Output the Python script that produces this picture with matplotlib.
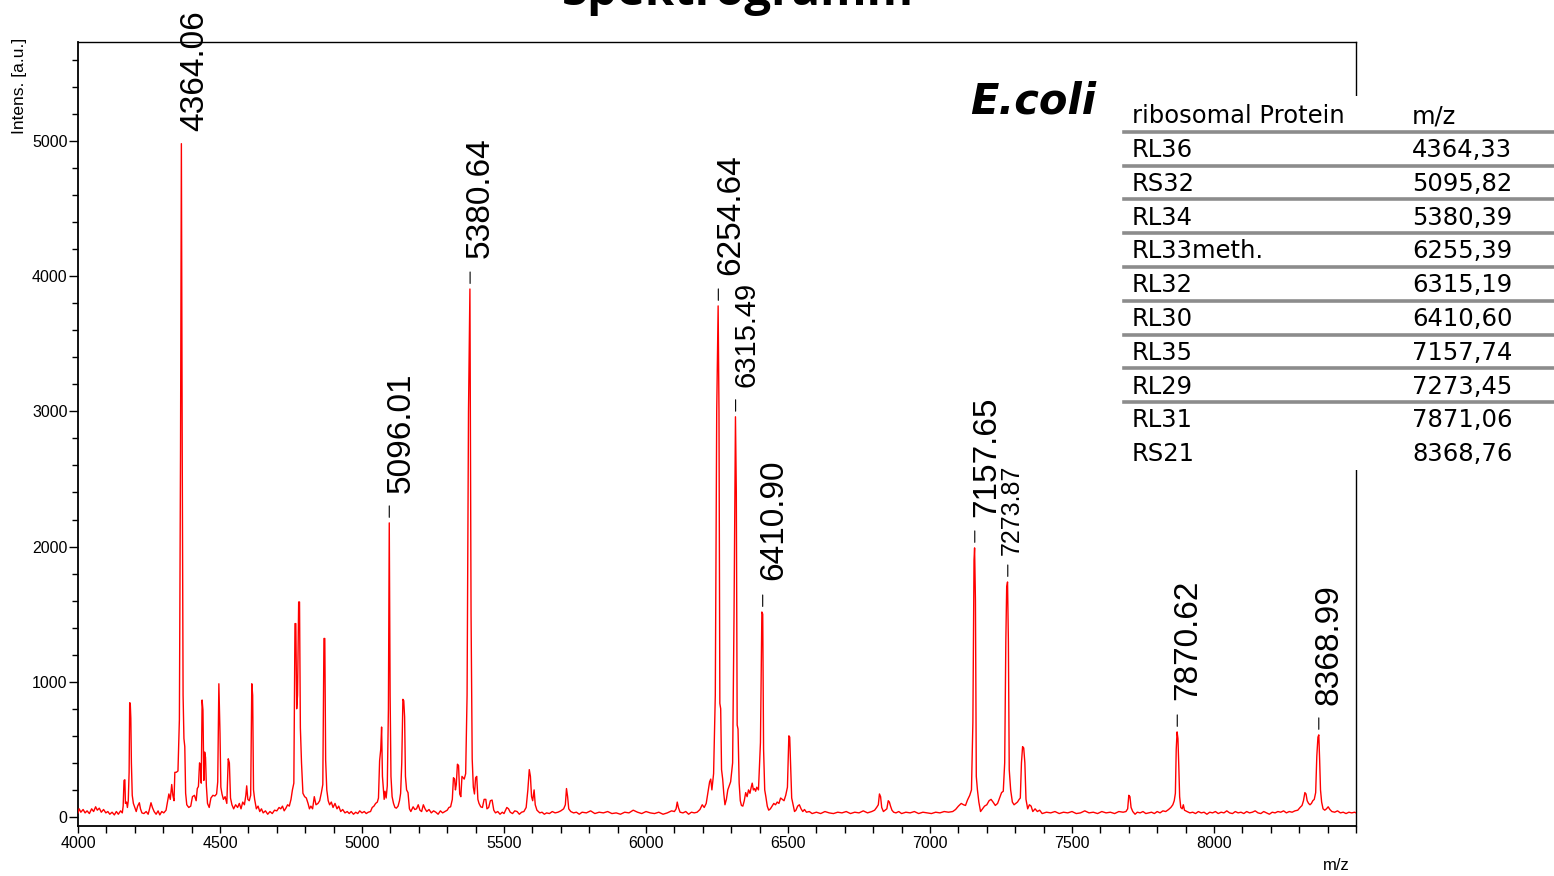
import numpy as np
import matplotlib
matplotlib.use('Agg')
import matplotlib.pyplot as plt
from matplotlib.patches import Rectangle

plt.rcParams['font.family'] = ['Liberation Sans', 'DejaVu Sans']

# spectrum, (m/z, intensity) per 500 m/z segment
seg_4000 = [(4000, 30), (4004, 60), (4010, 35), (4018, 55), (4025, 30), (4032, 45), (4040, 25), (4048, 60),
            (4055, 40), (4062, 75), (4068, 50), (4075, 65), (4082, 35), (4090, 55), (4098, 30), (4105, 40),
            (4112, 20), (4120, 35), (4128, 15), (4135, 40), (4142, 20), (4150, 45), (4156, 30), (4159, 80),
            (4162, 270), (4165, 275), (4167, 100), (4171, 110), (4174, 70), (4177, 120), (4180, 330),
            (4182, 845), (4184, 840), (4186, 730), (4188, 400), (4191, 160), (4195, 100), (4200, 70),
            (4205, 40), (4210, 80), (4216, 105), (4220, 60), (4225, 30), (4232, 25), (4240, 40), (4247, 20),
            (4252, 60), (4257, 105), (4262, 70), (4268, 40), (4275, 20), (4282, 45), (4288, 15), (4295, 40),
            (4302, 30), (4310, 50), (4315, 110), (4320, 170), (4325, 130), (4330, 240), (4334, 160),
            (4338, 120), (4341, 330), (4346, 330), (4352, 340), (4357, 720), (4361, 2700), (4364, 4980),
            (4367, 2700), (4370, 900), (4373, 580), (4376, 520), (4379, 175), (4383, 90), (4390, 70),
            (4397, 80), (4403, 150), (4410, 160), (4416, 120), (4420, 210), (4424, 225), (4428, 400),
            (4431, 380), (4434, 250), (4437, 865), (4440, 790), (4443, 270), (4446, 480), (4449, 440),
            (4452, 230), (4456, 100), (4462, 70), (4468, 140), (4475, 160), (4482, 155), (4488, 170),
            (4492, 260), (4496, 985), (4500, 620)]
seg_4500 = [(4503, 220), (4507, 170), (4512, 130), (4518, 150), (4524, 100), (4529, 430), (4533, 400),
            (4537, 140), (4542, 90), (4548, 60), (4555, 90), (4562, 70), (4568, 100), (4574, 60), (4580, 110),
            (4586, 90), (4591, 160), (4594, 230), (4598, 130), (4603, 120), (4608, 160), (4612, 985),
            (4615, 900), (4618, 200), (4622, 130), (4628, 60), (4634, 80), (4640, 40), (4646, 60), (4652, 30),
            (4660, 45), (4668, 20), (4676, 40), (4684, 25), (4692, 50), (4700, 45), (4708, 70), (4714, 60),
            (4720, 80), (4726, 45), (4732, 65), (4738, 90), (4744, 80), (4750, 130), (4755, 200), (4760, 250),
            (4764, 1430), (4767, 1430), (4770, 800), (4773, 900), (4777, 1590), (4780, 1590), (4783, 660),
            (4787, 400), (4792, 175), (4798, 150), (4804, 140), (4810, 100), (4815, 60), (4820, 80),
            (4826, 60), (4832, 150), (4838, 90), (4845, 100), (4851, 120), (4857, 180), (4862, 240),
            (4866, 1320), (4869, 1320), (4872, 420), (4876, 200), (4881, 120), (4886, 90), (4892, 110),
            (4898, 70), (4905, 100), (4912, 60), (4918, 80), (4925, 40), (4932, 55), (4940, 30), (4948, 40),
            (4955, 25), (4962, 40), (4970, 20), (4978, 35), (4985, 25), (4992, 45), (5000, 30)]
seg_5000 = [(5008, 40), (5015, 25), (5022, 35), (5030, 40), (5036, 70), (5042, 80), (5048, 100), (5054, 110),
            (5058, 140), (5062, 415), (5066, 500), (5069, 665), (5072, 300), (5075, 210), (5078, 130),
            (5081, 190), (5085, 140), (5089, 230), (5093, 800), (5096, 2175), (5099, 900), (5102, 300),
            (5106, 150), (5111, 100), (5116, 70), (5121, 65), (5127, 80), (5132, 120), (5136, 175),
            (5140, 400), (5144, 870), (5147, 860), (5150, 740), (5153, 300), (5157, 200), (5162, 180),
            (5167, 60), (5172, 40), (5180, 75), (5186, 55), (5192, 60), (5198, 90), (5204, 50), (5210, 40),
            (5216, 90), (5222, 60), (5228, 40), (5236, 55), (5244, 30), (5252, 45), (5260, 35), (5268, 20),
            (5276, 45), (5284, 30), (5292, 40), (5300, 50), (5306, 70), (5312, 75), (5318, 130), (5322, 290),
            (5326, 280), (5329, 200), (5332, 240), (5336, 390), (5340, 380), (5344, 170), (5348, 150),
            (5352, 300), (5356, 290), (5360, 280), (5365, 320), (5370, 900), (5375, 3000), (5380, 3905),
            (5384, 1500), (5388, 430), (5392, 220), (5396, 170), (5400, 290), (5404, 300), (5408, 130),
            (5412, 100), (5418, 75), (5424, 70), (5430, 130), (5436, 130), (5440, 60), (5446, 70), (5452, 120),
            (5458, 125), (5464, 50), (5470, 30), (5478, 40), (5486, 20), (5494, 35), (5500, 25)]
seg_5500 = [(5510, 70), (5516, 60), (5522, 35), (5530, 25), (5538, 45), (5546, 40), (5554, 20), (5562, 35),
            (5570, 40), (5578, 70), (5584, 200), (5589, 350), (5593, 300), (5597, 150), (5601, 120),
            (5606, 200), (5610, 90), (5616, 50), (5626, 30), (5634, 35), (5642, 20), (5650, 30), (5660, 25),
            (5670, 40), (5680, 30), (5690, 35), (5700, 45), (5710, 60), (5716, 90), (5720, 210), (5724, 150),
            (5728, 60), (5735, 40), (5745, 30), (5755, 35), (5765, 20), (5775, 35), (5790, 30), (5805, 45),
            (5820, 25), (5835, 35), (5850, 30), (5865, 40), (5880, 25), (5895, 30), (5910, 20), (5925, 35),
            (5940, 30), (5955, 50), (5970, 35), (5985, 25), (6000, 40)]
seg_6000 = [(6015, 30), (6030, 25), (6045, 35), (6060, 20), (6075, 30), (6090, 45), (6100, 40), (6106, 60),
            (6110, 110), (6114, 70), (6120, 35), (6130, 30), (6140, 40), (6150, 20), (6160, 35), (6170, 30),
            (6180, 35), (6190, 55), (6198, 90), (6205, 70), (6212, 100), (6218, 180), (6224, 260), (6228, 280),
            (6232, 200), (6238, 320), (6244, 900), (6249, 3000), (6254, 3780), (6257, 3000), (6260, 840),
            (6263, 800), (6266, 350), (6270, 280), (6274, 170), (6278, 90), (6283, 130), (6288, 200),
            (6293, 230), (6298, 260), (6305, 400), (6310, 1500), (6315, 2960), (6318, 2400), (6321, 680),
            (6324, 650), (6328, 250), (6332, 120), (6336, 85), (6341, 80), (6346, 120), (6351, 180),
            (6356, 150), (6361, 200), (6366, 175), (6370, 215), (6374, 250), (6378, 200), (6382, 210),
            (6386, 190), (6390, 220), (6396, 200), (6403, 550), (6408, 1516), (6411, 1500), (6414, 500),
            (6418, 200), (6422, 150), (6427, 80), (6432, 50), (6438, 60), (6444, 80), (6450, 100), (6456, 90),
            (6462, 110), (6468, 100), (6474, 140), (6480, 130), (6486, 120), (6492, 160), (6498, 220)]
seg_6500 = [(6503, 600), (6506, 590), (6509, 400), (6513, 140), (6518, 90), (6523, 40), (6528, 50), (6534, 80),
            (6540, 90), (6546, 60), (6552, 40), (6558, 55), (6565, 35), (6575, 40), (6585, 25), (6600, 35),
            (6615, 25), (6630, 40), (6645, 30), (6660, 25), (6675, 35), (6690, 30), (6705, 40), (6720, 25),
            (6735, 35), (6750, 30), (6765, 45), (6780, 30), (6795, 40), (6805, 50), (6812, 70), (6818, 90),
            (6822, 170), (6826, 150), (6830, 70), (6836, 40), (6842, 50), (6848, 60), (6853, 120), (6857, 110),
            (6861, 80), (6866, 50), (6872, 35), (6880, 30), (6890, 40), (6900, 25), (6915, 35), (6930, 30),
            (6945, 40), (6960, 25), (6975, 35), (6990, 30)]
seg_7000 = [(7005, 25), (7020, 35), (7035, 30), (7050, 40), (7065, 35), (7080, 40), (7090, 55), (7100, 80),
            (7110, 100), (7118, 90), (7125, 85), (7132, 125), (7140, 160), (7146, 200), (7151, 700),
            (7155, 1900), (7157, 1990), (7160, 1600), (7163, 300), (7167, 200), (7172, 110), (7178, 40),
            (7185, 60), (7192, 80), (7200, 90), (7208, 120), (7215, 130), (7222, 110), (7230, 85), (7238, 100),
            (7245, 140), (7252, 180), (7258, 190), (7263, 400), (7267, 1300), (7270, 1700), (7273, 1738),
            (7276, 1300), (7279, 350), (7284, 200), (7290, 110), (7296, 90), (7302, 100), (7308, 110),
            (7314, 130), (7318, 140), (7322, 400), (7326, 520), (7330, 510), (7334, 400), (7338, 130),
            (7344, 60), (7350, 90), (7356, 80), (7362, 40), (7370, 60), (7378, 40), (7386, 50), (7395, 25),
            (7410, 35), (7425, 30), (7440, 40), (7455, 25), (7470, 35), (7485, 30), (7500, 40)]
seg_7500 = [(7515, 25), (7530, 30), (7545, 45), (7560, 30), (7575, 35), (7590, 25), (7605, 40), (7620, 30),
            (7635, 35), (7650, 25), (7665, 40), (7680, 35), (7690, 40), (7696, 60), (7700, 160), (7704, 150),
            (7708, 70), (7714, 40), (7722, 20), (7730, 35), (7740, 30), (7750, 40), (7760, 25), (7770, 30),
            (7780, 35), (7790, 25), (7800, 40), (7810, 30), (7820, 45), (7830, 40), (7840, 55), (7848, 70),
            (7855, 90), (7860, 120), (7864, 175), (7867, 500), (7870, 629), (7873, 580), (7876, 380),
            (7879, 150), (7883, 70), (7888, 60), (7892, 90), (7896, 50), (7905, 40), (7915, 30), (7925, 35),
            (7935, 25), (7945, 40), (7955, 30), (7965, 35), (7975, 20), (7985, 35), (7995, 30)]
seg_8000 = [(8005, 40), (8015, 25), (8025, 35), (8035, 30), (8045, 45), (8055, 30), (8065, 25), (8075, 40),
            (8085, 30), (8095, 35), (8105, 25), (8115, 40), (8125, 30), (8135, 35), (8145, 45), (8155, 30),
            (8165, 25), (8175, 40), (8185, 30), (8195, 20), (8205, 35), (8215, 30), (8225, 40), (8235, 35),
            (8245, 45), (8255, 30), (8265, 40), (8275, 35), (8285, 45), (8295, 50), (8303, 70), (8310, 85),
            (8315, 120), (8320, 180), (8324, 170), (8328, 120), (8333, 100), (8338, 90), (8343, 100),
            (8348, 120), (8353, 130), (8358, 180), (8362, 450), (8366, 590), (8369, 607), (8372, 420),
            (8375, 200), (8379, 110), (8384, 60), (8390, 50), (8396, 60), (8402, 75), (8408, 55), (8415, 40),
            (8425, 35), (8435, 45), (8445, 30), (8455, 35), (8465, 25), (8475, 35), (8485, 30), (8495, 35),
            (8500, 30)]

# labelled peaks
peak_labels = ['4364.06', '5096.01', '5380.64', '6254.64', '6315.49', '6410.90', '7157.65', '7273.87',
               '7870.62', '8368.99']
peak_mz = [4364.06, 5096.01, 5380.64, 6254.64, 6315.49, 6410.90, 7157.65, 7273.87, 7870.62, 8368.99]
peak_int = [4980, 2175, 3905, 3780, 2960, 1516, 1990, 1738, 629, 607]
label_size = [24, 24, 24, 24, 21, 24, 24, 18, 24, 24]
label_dx = [-2, -4, -5, -3, -3, -4, -4, -8, -5, -5]   # px
label_dy = [13, 30, 31, 31, 30, 32, 31, 27, 32, 30]   # px above peak top
show_dash = [False, True, True, True, True, True, True, True, True, True]

# table
proteins = ['RL36', 'RS32', 'RL34', 'RL33meth.', 'RL32', 'RL30', 'RL35', 'RL29', 'RL31', 'RS21']
protein_mz = ['4364,33', '5095,82', '5380,39', '6255,39', '6315,19', '6410,60', '7157,74', '7273,45',
              '7871,06', '8368,76']

W, H = 1554, 876
fig = plt.figure(figsize=(W / 100, H / 100), dpi=100)
ax = fig.add_axes([78 / W, 1 - 826 / H, (1356 - 78) / W, (826 - 42) / H])


def fx(px):
    return px / W


def fy(py):
    return 1 - py / H


spec = np.array(seg_4000 + seg_4500 + seg_5000 + seg_5500 + seg_6000 + seg_6500 + seg_7000 + seg_7500 + seg_8000)
ax.plot(spec[:, 0], spec[:, 1], color='#ff0000', lw=1.0, zorder=3)

ax.set_xlim(4000, 8500)
ax.set_ylim(-67, 5732)
ax.set_xticks(np.arange(4000, 8001, 500))
ax.set_xticks(np.arange(4000, 8501, 100), minor=True)
ax.set_yticks(np.arange(0, 5001, 1000))
ax.set_yticks(np.arange(0, 5701, 200), minor=True)
ax.tick_params(axis='x', which='both', direction='out', length=5, width=1, labelsize=11.5, pad=2)
ax.tick_params(axis='y', which='major', direction='out', length=6.5, width=1, labelsize=11.5, pad=1)
ax.tick_params(axis='y', which='minor', direction='out', length=4, width=1)
for s in ['left', 'bottom']:
    ax.spines[s].set_linewidth(1.3)
for s in ['top', 'right']:
    ax.spines[s].set_linewidth(1.0)

for i in range(len(peak_mz)):
    ax.annotate(peak_labels[i], xy=(peak_mz[i], peak_int[i]), xytext=(label_dx[i], label_dy[i]),
                textcoords='offset pixels', rotation=90, ha='left', va='bottom',
                fontsize=label_size[i], annotation_clip=False)
    if show_dash[i]:
        ax.annotate('', xy=(peak_mz[i], peak_int[i]), xytext=(0, 17), textcoords='offset pixels',
                    arrowprops=dict(arrowstyle='-', color='black', lw=0.8, shrinkA=0, shrinkB=4))

fig.text(fx(20), fy(38), 'Intens. [a.u.]', rotation=90, ha='center', va='top', fontsize=12.5)
fig.text(fx(1350), fy(865), 'm/z', ha='right', va='center', fontsize=12)
fig.text(fx(738), fy(5), 'Spektrogramm', ha='center', va='baseline', fontsize=34,
         fontweight='bold', family='Open Sans')
fig.text(fx(1096), fy(114), 'E.coli', ha='right', va='baseline', fontsize=30,
         fontweight='bold', style='italic', family='DejaVu Sans')

# table on top of the right side
tfont = dict(fontsize=17.5, va='baseline', zorder=6, family='DejaVu Sans')
fig.add_artist(Rectangle((fx(1122), fy(470)), fx(1554) - fx(1122), fy(96) - fy(470),
                         transform=fig.transFigure, facecolor='white', edgecolor='none', zorder=5))
fig.text(fx(1132), fy(123), 'ribosomal Protein', **tfont)
fig.text(fx(1412), fy(123), 'm/z', **tfont)
for i in range(len(proteins)):
    yb = 157 + 33.8 * i
    fig.text(fx(1132), fy(yb), proteins[i], **tfont)
    fig.text(fx(1412), fy(yb), protein_mz[i], **tfont)
    if i < len(proteins) - 1:
        yl = 131.7 + 33.8 * i
        fig.add_artist(plt.Line2D([fx(1124), 1], [fy(yl), fy(yl)], transform=fig.transFigure,
                                  color='#8c8c8c', lw=2.6, zorder=6))

fig.savefig('out.png', dpi=100)
